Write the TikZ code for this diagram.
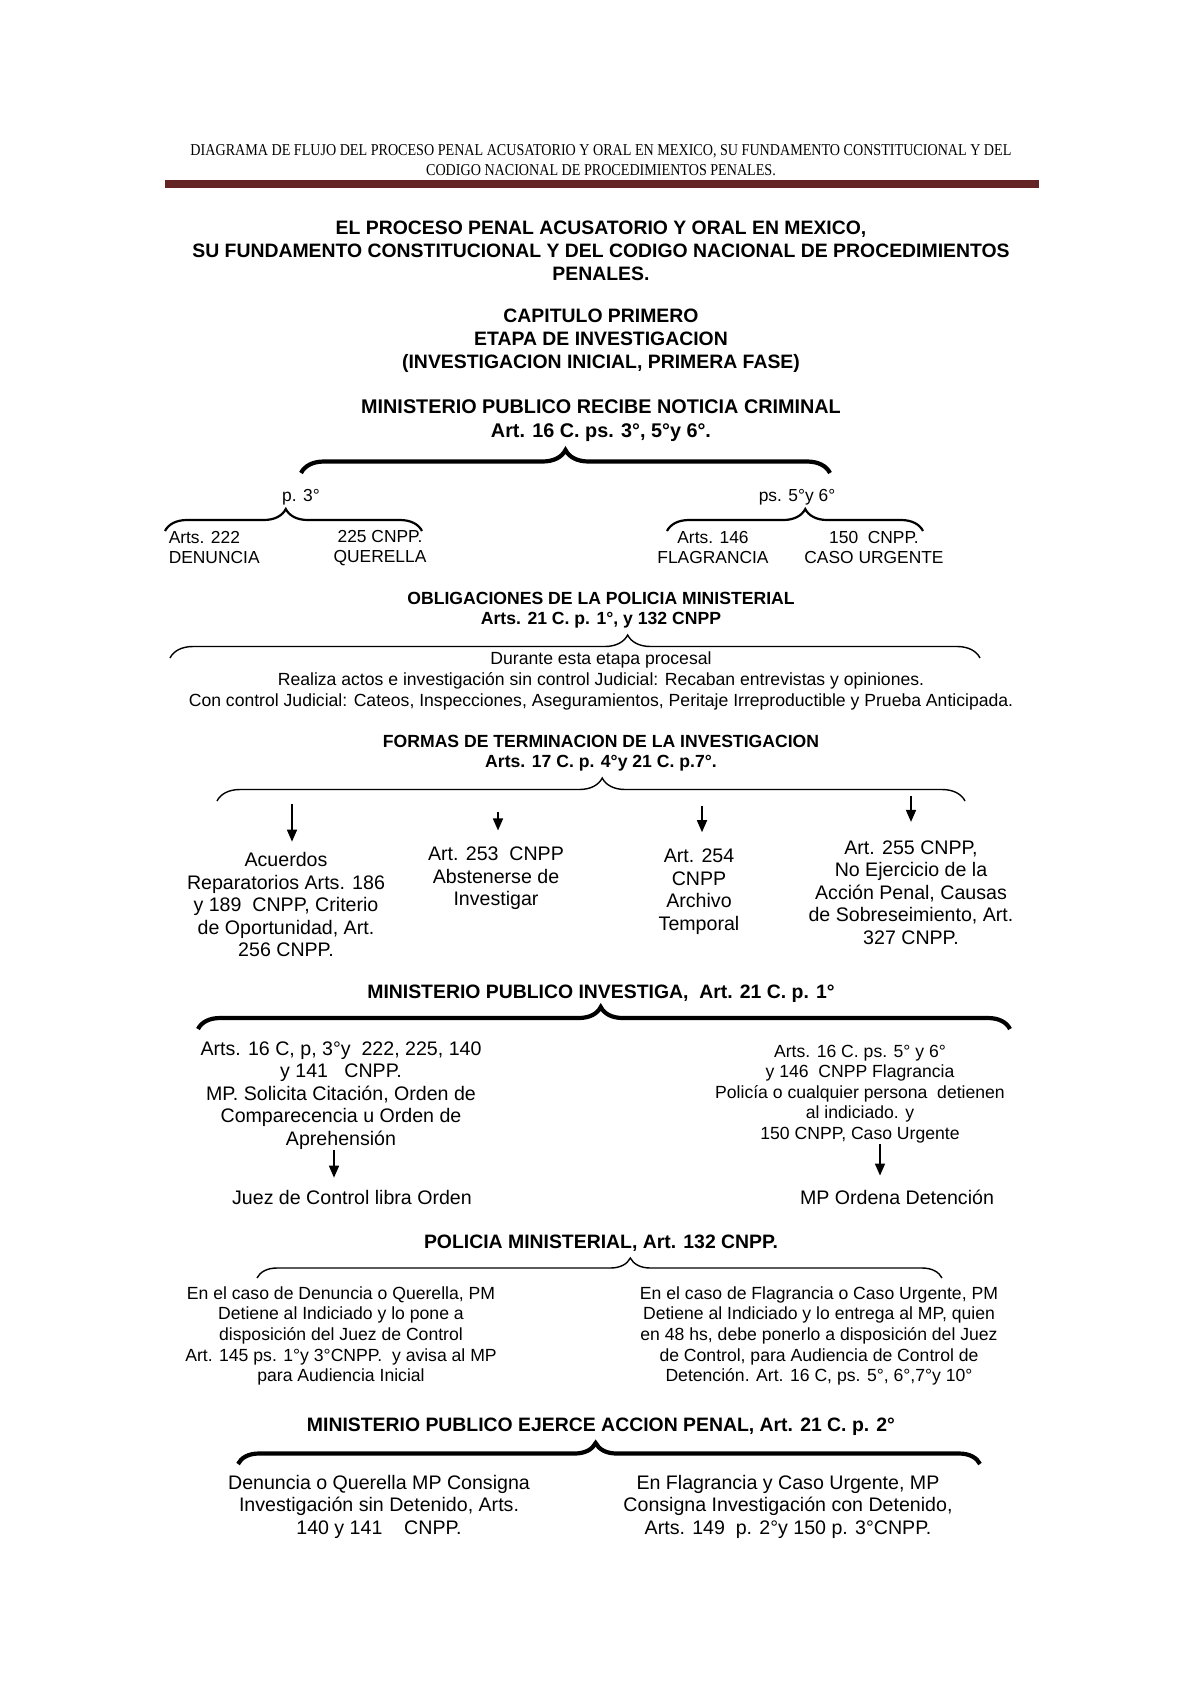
\documentclass[tikz,border=0pt]{standalone}
\usepackage{fontspec}
\setmainfont{Liberation Sans}
\newfontfamily\encabezado{Liberation Serif}[FakeStretch=0.85]
\usetikzlibrary{decorations.pathreplacing,arrows.meta}
\definecolor{granate}{RGB}{99,36,35}
\tikzset{every picture/.style={line width=0.75pt}}
\tikzset{
	cabecera/.style={font=\encabezado\fontsize{8.3}{10}\selectfont, align=center, inner sep=0pt},
	titulo/.style={font=\fontsize{9.7}{11.5}\selectfont\bfseries, align=center, inner sep=0pt, yshift=-1pt},
	seccion/.style={font=\fontsize{8.8}{10}\selectfont\bfseries, align=center, inner sep=0pt, yshift=-1pt},
	seccion grande/.style={font=\fontsize{9.7}{11.5}\selectfont\bfseries, align=center, inner sep=0pt, yshift=-1pt},
	texto/.style={font=\fontsize{9.8}{11.25}\selectfont, align=center, inner sep=0pt, yshift=-0.8pt},
	textochico/.style={font=\fontsize{8.8}{10.3}\selectfont, align=center, inner sep=0pt, yshift=-1pt},
	textoapunte/.style={font=\fontsize{8.7}{10}\selectfont, align=center, inner sep=0pt},
	llave fina/.style={decorate, line width=0.7pt},
	llave media/.style={decorate, line width=1.1pt},
	llave gruesa/.style={decorate, line width=2.1pt},
	flecha/.style={-{Triangle[length=6pt,width=5pt]}, line width=0.8pt}}

\begin{document}
\begin{tikzpicture}[x=0.5pt,y=0.5pt,yscale=-1,xscale=1]
	\useasboundingbox (0,0) rectangle (1200,1698);

	% Text Node
	\draw (601,160) node [cabecera] (encab) {DIAGRAMA DE FLUJO DEL PROCESO PENAL ACUSATORIO Y ORAL EN MEXICO, SU FUNDAMENTO CONSTITUCIONAL Y DEL\\CODIGO NACIONAL DE PROCEDIMIENTOS PENALES.};
	%Shape: Rectangle
	\fill [granate] (165,180) rectangle (1039,188);

	% Text Node
	\draw (601,249) node [titulo] (titulo) {EL PROCESO PENAL ACUSATORIO Y ORAL EN MEXICO,\\SU FUNDAMENTO CONSTITUCIONAL Y DEL CODIGO NACIONAL DE PROCEDIMIENTOS\\PENALES.};
	% Text Node
	\draw (601,339) node [titulo] (capitulo) {CAPITULO PRIMERO\\ETAPA DE INVESTIGACION\\(INVESTIGACION INICIAL, PRIMERA FASE)};
	% Text Node
	\draw (601,419) node [titulo, font=\fontsize{9.9}{12}\selectfont\bfseries] (mpRecibe) {MINISTERIO PUBLICO RECIBE NOTICIA CRIMINAL\\Art. 16 C. ps. 3°, 5°y 6°.};

	%Shape: Brace
	\coordinate (b1i) at (301,473);
	\coordinate (b1d) at (830,473);
	\draw [llave gruesa, decoration={brace, amplitude=11.5pt, aspect=0.5}] (b1i) -- (b1d);

	% Text Node
	\draw (301,497) node [textoapunte] (p3) {p. 3°};
	% Text Node
	\draw (797,497) node [textoapunte] (p56) {ps. 5°y 6°};

	%Shape: Brace
	\coordinate (b2i) at (165,531);
	\coordinate (b2d) at (422,531);
	\draw [llave media, decoration={brace, amplitude=11pt, aspect=0.47}] (b2i) -- (b2d);
	%Shape: Brace
	\coordinate (b3i) at (667,531);
	\coordinate (b3d) at (923,531);
	\draw [llave media, decoration={brace, amplitude=11pt, aspect=0.54}] (b3i) -- (b3d);

	% Text Node
	\draw (168,548) node [textoapunte, anchor=west, align=left] (denuncia) {Arts. 222\\DENUNCIA};
	% Text Node
	\draw (380,548) node [textoapunte] (querella) {225 CNPP.\\QUERELLA};
	% Text Node
	\draw (713,548) node [textoapunte] (flagrancia) {Arts. 146\\FLAGRANCIA};
	% Text Node
	\draw (874,548) node [textoapunte] (urgente) {150~ CNPP.\\CASO URGENTE};

	% Text Node
	\draw (601,608) node [seccion] (obligaciones) {OBLIGACIONES DE LA POLICIA MINISTERIAL\\Arts. 21 C. p. 1°, y 132 CNPP};

	%Shape: Brace
	\coordinate (b4i) at (170,658);
	\coordinate (b4d) at (980,658);
	\draw [llave fina, decoration={brace, amplitude=11.5pt, aspect=0.565}] (b4i) -- (b4d);

	% Text Node
	\draw (601,679) node [texto, font=\fontsize{8.8}{10.5}\selectfont] (durante) {Durante esta etapa procesal\\Realiza actos e investigación sin control Judicial: Recaban entrevistas y opiniones.\\Con control Judicial: Cateos, Inspecciones, Aseguramientos, Peritaje Irreproductible y Prueba Anticipada.};

	% Text Node
	\draw (601,751) node [seccion] (formas) {FORMAS DE TERMINACION DE LA INVESTIGACION\\Arts. 17 C. p. 4°y 21 C. p.7°.};

	%Shape: Brace
	\coordinate (b5i) at (217,801);
	\coordinate (b5d) at (965,801);
	\draw [llave fina, decoration={brace, amplitude=11.5pt, aspect=0.515}] (b5i) -- (b5d);

	% Text Node
	\draw (286,903) node [texto] (acuerdos) {Acuerdos\\Reparatorios Arts. 186\\y 189~ CNPP, Criterio\\de Oportunidad, Art.\\256 CNPP.};
	% Text Node
	\draw (496,877) node [texto] (abstenerse) {Art. 253~ CNPP\\Abstenerse de\\Investigar};
	% Text Node
	\draw (699,890) node [texto] (archivo) {Art. 254\\CNPP\\Archivo\\Temporal};
	% Text Node
	\draw (911,891) node [texto] (noEjercicio) {Art. 255 CNPP,\\No Ejercicio de la\\Acción Penal, Causas\\de Sobreseimiento, Art.\\327 CNPP.};

	%Straight Lines
	\coordinate (f1) at (292,804);
	\draw [flecha, shorten >=5pt] (f1) -- (f1 |- acuerdos.north);
	\coordinate (f2) at (498,812);
	\draw [flecha, shorten >=8pt] (f2) -- (f2 |- abstenerse.north);
	\coordinate (f3) at (702,806);
	\draw [flecha, shorten >=8pt] (f3) -- (f3 |- archivo.north);
	\coordinate (f4) at (911,796);
	\draw [flecha, shorten >=9pt] (f4) -- (f4 |- noEjercicio.north);

	% Text Node
	\draw (601,992) node [seccion grande] (mpInvestiga) {MINISTERIO PUBLICO INVESTIGA,~ Art. 21 C. p. 1°};

	%Shape: Brace
	\coordinate (b6i) at (198,1029);
	\coordinate (b6d) at (1010,1029);
	\draw [llave gruesa, decoration={brace, amplitude=11pt, aspect=0.496}] (b6i) -- (b6d);

	% Text Node
	\draw (341,1094) node [texto] (citacion) {Arts. 16 C, p, 3°y~ 222, 225, 140\\y 141~~ CNPP.\\MP. Solicita Citación, Orden de\\Comparecencia u Orden de\\Aprehensión};
	% Text Node
	\draw (860,1092) node [textochico] (detienen) {Arts. 16 C. ps. 5° y 6°\\y 146~ CNPP Flagrancia\\Policía o cualquier persona~ detienen\\al indiciado. y\\150 CNPP, Caso Urgente};
	% Text Node
	\draw (352,1196) node [texto] (juez) {Juez de Control libra Orden};
	% Text Node
	\draw (897,1196) node [texto] (detencion) {MP Ordena Detención};

	%Straight Lines
	\coordinate (f5) at (334,1150);
	\draw [flecha, shorten >=6pt] (f5) -- (f5 |- juez.north);
	\coordinate (f6) at (880,1144);
	\draw [flecha, shorten >=7pt] (f6) -- (f6 |- detencion.north);

	% Text Node
	\draw (601,1241) node [seccion grande] (policia) {POLICIA MINISTERIAL, Art. 132 CNPP.};

	%Shape: Brace
	\coordinate (b7i) at (257,1278);
	\coordinate (b7d) at (942,1278);
	\draw [llave fina, decoration={brace, amplitude=10pt, aspect=0.545}] (b7i) -- (b7d);

	% Text Node
	\draw (341,1334) node [textochico] (pmDenuncia) {En el caso de Denuncia o Querella, PM\\Detiene al Indiciado y lo pone a\\disposición del Juez de Control\\Art. 145 ps. 1°y 3°CNPP.~ y avisa al MP\\para Audiencia Inicial};
	% Text Node
	\draw (819,1334) node [textochico] (pmFlagrancia) {En el caso de Flagrancia o Caso Urgente, PM\\Detiene al Indiciado y lo entrega al MP, quien\\en 48 hs, debe ponerlo a disposición del Juez\\de Control, para Audiencia de Control de\\Detención. Art. 16 C, ps. 5°, 6°,7°y 10°};

	% Text Node
	\draw (601,1425) node [seccion grande] (ejerce) {MINISTERIO PUBLICO EJERCE ACCION PENAL, Art. 21 C. p. 2°};

	%Shape: Brace
	\coordinate (b8i) at (238,1464);
	\coordinate (b8d) at (980,1464);
	\draw [llave gruesa, decoration={brace, amplitude=10.5pt, aspect=0.482}] (b8i) -- (b8d);

	% Text Node
	\draw (379,1505) node [texto] (sinDetenido) {Denuncia o Querella MP Consigna\\Investigación sin Detenido, Arts.\\140 y 141~~~ CNPP.};
	% Text Node
	\draw (788,1505) node [texto] (conDetenido) {En Flagrancia y Caso Urgente, MP\\Consigna Investigación con Detenido,\\Arts. 149~ p. 2°y 150 p. 3°CNPP.};

\end{tikzpicture}
\end{document}
